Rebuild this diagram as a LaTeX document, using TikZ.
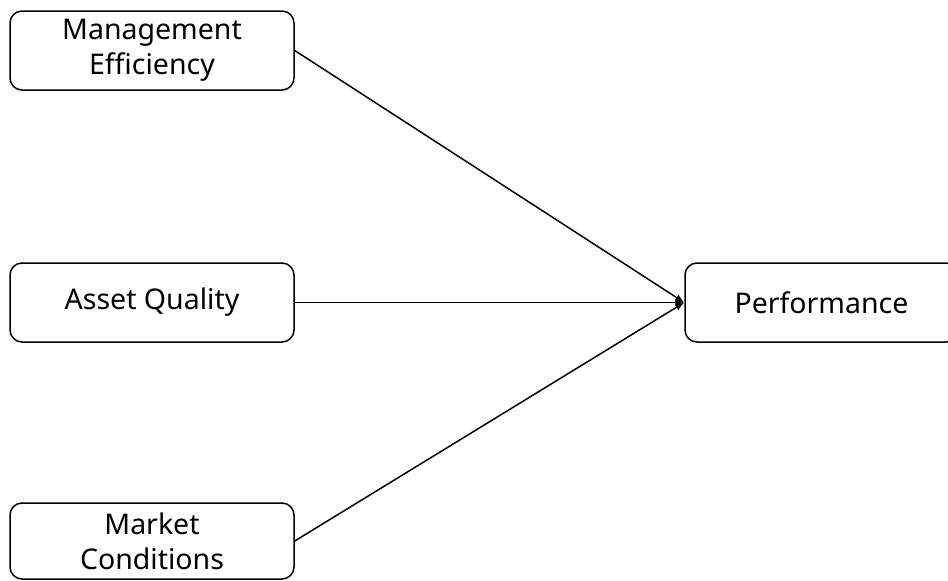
\documentclass[tikz,border=0pt]{standalone}
\usepackage{fontspec}
\setmainfont{Noto Sans}
\usetikzlibrary{arrows.meta}
\begin{document}
\begin{tikzpicture}[x=1pt,y=-1pt,
  box/.style={draw, line width=1.5pt, rounded corners=12pt, minimum width=284pt, inner sep=0pt,
    align=center, font=\fontsize{28.5}{35}\selectfont},
  conn/.style={line width=1.5pt, -{Latex[length=9pt,width=7pt]}}]
\useasboundingbox (0,0) rectangle (948,581);
\node[box, minimum height=79pt] (me) at (152,50.5) {Management\\Efficiency};
\node[box, minimum height=79pt] (aq) at (152,302.5) {Asset Quality};
\node[box, minimum height=76pt] (mc) at (152,541) {Market\\Conditions};
\node[box, minimum height=79pt, minimum width=273pt] (pf) at (821.5,302.5) {Performance};
\draw[conn] (me.east) -- (pf.west);
\draw[conn] (aq.east) -- (pf.west);
\draw[conn] (mc.east) -- (pf.west);
\end{tikzpicture}
\end{document}
